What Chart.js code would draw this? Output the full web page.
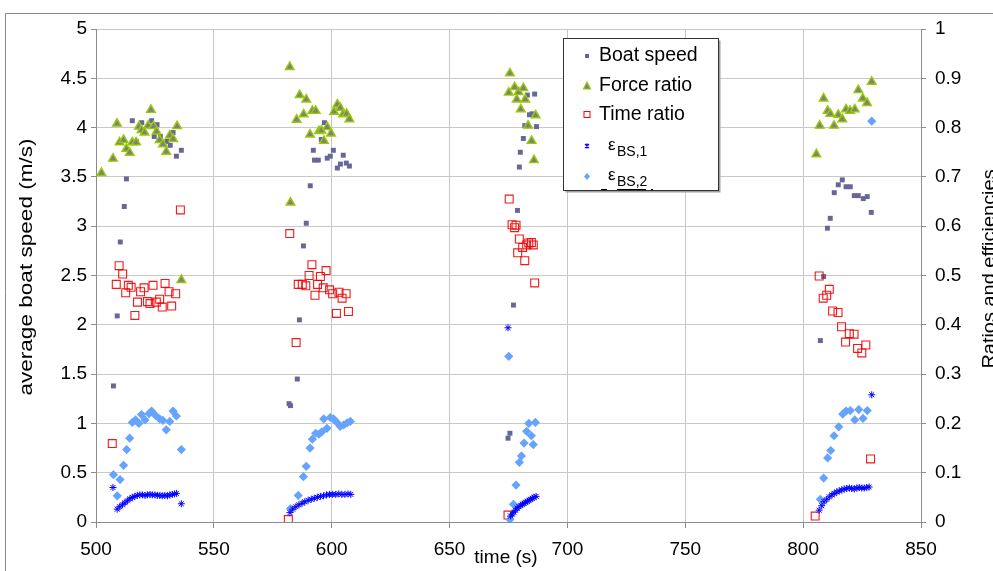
<!DOCTYPE html>
<html>
<head>
<meta charset="utf-8">
<script src="https://cdn.jsdelivr.net/npm/chart.js@4.4.1/dist/chart.umd.min.js"></script>
<style>
  html, body { margin: 0; padding: 0; background: #fff; }
  canvas { display: block; }
</style>
</head>
<body>
<canvas id="c" width="993" height="571"></canvas>
<script>
// [time (s), value] pairs
const boatSpeed = [
  [507.4, 1.38], [509.0, 2.09], [510.3, 2.84], [512.0, 3.20], [512.9, 3.48], [515.4, 4.07],
  [517.1, 3.86], [519.4, 4.05], [523.6, 4.07], [524.7, 3.91], [525.9, 4.03], [527.3, 3.91],
  [530.1, 3.86], [531.5, 3.82], [532.7, 3.95], [534.1, 3.71], [536.2, 3.77],
  [581.9, 1.20], [582.5, 1.18], [585.4, 1.45], [586.3, 2.05], [588.0, 2.80], [589.2, 3.03],
  [590.9, 3.41], [592.2, 3.77], [592.7, 3.67], [594.3, 3.67], [595.6, 3.88], [596.9, 4.05],
  [598.1, 3.69], [599.4, 3.71], [600.7, 3.77], [602.4, 3.59], [603.7, 3.63], [604.9, 3.72],
  [606.2, 3.64], [607.5, 3.61],
  [674.8, 0.85], [675.6, 0.90], [677.1, 2.20], [678.8, 3.16], [679.6, 3.60], [680.0, 3.75],
  [681.3, 3.89], [681.9, 4.02], [683.0, 4.33], [683.9, 4.13], [685.0, 4.14], [686.1, 4.34],
  [686.9, 4.01],
  [807.3, 1.84], [808.7, 2.49], [810.3, 2.98], [811.5, 3.08], [813.2, 3.34], [814.9, 3.42],
  [816.6, 3.47], [818.2, 3.40], [820.0, 3.40], [821.7, 3.31], [823.4, 3.31], [825.5, 3.28],
  [827.2, 3.30], [828.9, 3.14]
];

const forceRatio = [
  [502.3, 0.708], [507.2, 0.737], [508.9, 0.808], [510.0, 0.770], [511.7, 0.775], [512.9, 0.757],
  [514.3, 0.749], [515.4, 0.770], [517.0, 0.770], [518.2, 0.802], [519.3, 0.795], [520.6, 0.790],
  [522.1, 0.804], [523.3, 0.836], [524.4, 0.803], [525.7, 0.792], [527.0, 0.775], [528.4, 0.766],
  [529.8, 0.751], [531.3, 0.784], [532.7, 0.777], [534.4, 0.803], [536.2, 0.491],
  [582.2, 0.923], [582.5, 0.648], [585.1, 0.816], [586.4, 0.866], [588.1, 0.827], [589.2, 0.857],
  [590.8, 0.786], [591.8, 0.834], [593.2, 0.834], [594.6, 0.793], [595.6, 0.794], [596.7, 0.773],
  [598.1, 0.801], [599.7, 0.788], [601.0, 0.832], [602.4, 0.847], [603.6, 0.840], [604.8, 0.827],
  [606.3, 0.828], [607.5, 0.817],
  [675.1, 0.871], [675.6, 0.910], [677.6, 0.882], [678.5, 0.857], [679.3, 0.872], [680.2, 0.837],
  [681.3, 0.880], [682.1, 0.857], [683.3, 0.804], [684.8, 0.773], [685.8, 0.734], [686.5, 0.825],
  [805.6, 0.746], [807.0, 0.804], [808.7, 0.859], [810.4, 0.834], [811.5, 0.828], [813.1, 0.804],
  [814.9, 0.826], [816.6, 0.817], [818.2, 0.837], [819.9, 0.834], [821.9, 0.837], [823.4, 0.876],
  [825.3, 0.859], [827.1, 0.850], [829.1, 0.893]
];

const timeRatio = [
  [506.9, 0.159], [508.6, 0.482], [509.8, 0.520], [511.3, 0.503], [512.6, 0.465], [513.7, 0.480],
  [514.9, 0.476], [516.5, 0.419], [517.6, 0.446], [518.9, 0.467], [520.4, 0.475], [521.8, 0.447],
  [522.9, 0.443], [524.2, 0.480], [525.6, 0.446], [527.0, 0.452], [528.1, 0.436], [529.3, 0.484],
  [531.0, 0.467], [532.1, 0.438], [533.8, 0.463], [535.8, 0.633],
  [581.6, 0.005], [582.2, 0.585], [584.9, 0.364], [585.8, 0.482], [587.5, 0.482], [589.0, 0.479],
  [590.4, 0.500], [591.6, 0.522], [592.9, 0.460], [594.0, 0.482], [595.2, 0.498], [596.4, 0.475],
  [597.6, 0.510], [599.1, 0.471], [600.4, 0.463], [602.0, 0.423], [603.1, 0.466], [604.4, 0.454],
  [606.1, 0.463], [607.1, 0.427],
  [674.8, 0.014], [675.3, 0.655], [676.5, 0.603], [677.6, 0.597], [678.2, 0.602], [678.9, 0.546],
  [679.6, 0.574], [681.0, 0.557], [681.9, 0.530], [682.7, 0.562], [683.6, 0.566], [684.7, 0.567],
  [685.5, 0.562], [686.1, 0.485],
  [805.1, 0.012], [806.8, 0.499], [808.5, 0.454], [810.0, 0.460], [811.1, 0.472], [812.5, 0.428],
  [814.8, 0.425], [816.3, 0.396], [818.0, 0.365], [819.6, 0.382], [821.6, 0.381], [823.1, 0.352],
  [824.9, 0.343], [826.6, 0.359], [828.6, 0.128]
];

const epsBS1 = [
  [507.2, 0.070], [509.0, 0.026], [510.1, 0.031], [511.2, 0.035], [512.3, 0.039], [513.3, 0.043],
  [514.4, 0.047], [515.4, 0.050], [516.5, 0.052], [517.5, 0.054], [518.6, 0.055], [519.7, 0.055],
  [520.8, 0.054], [521.8, 0.055], [522.9, 0.056], [523.9, 0.055], [525.0, 0.055], [526.0, 0.054],
  [527.1, 0.054], [528.1, 0.053], [529.2, 0.054], [530.3, 0.053], [531.3, 0.055], [532.4, 0.056],
  [533.3, 0.057], [534.1, 0.058], [536.2, 0.037],
  [582.3, 0.019], [583.5, 0.026], [584.8, 0.031], [586.1, 0.035], [587.4, 0.038], [588.6, 0.041],
  [590.0, 0.044], [591.3, 0.046], [592.6, 0.048], [593.9, 0.050], [595.2, 0.052], [596.5, 0.053],
  [597.8, 0.055], [599.1, 0.056], [600.4, 0.056], [601.7, 0.056], [603.0, 0.057], [604.3, 0.056],
  [605.6, 0.056], [606.9, 0.057], [608.1, 0.056],
  [674.8, 0.394], [675.9, 0.012], [676.6, 0.016], [677.3, 0.020], [678.0, 0.024], [678.7, 0.028],
  [679.5, 0.031], [680.2, 0.034], [680.9, 0.036], [681.6, 0.038], [682.3, 0.040], [683.0, 0.042],
  [683.7, 0.044], [684.4, 0.046], [685.1, 0.048], [685.8, 0.050], [686.7, 0.052],
  [806.8, 0.024], [807.9, 0.033], [808.9, 0.041], [810.0, 0.046], [811.1, 0.051], [812.2, 0.055],
  [813.2, 0.058], [814.3, 0.061], [815.3, 0.063], [816.4, 0.065], [817.4, 0.067], [818.5, 0.068],
  [819.6, 0.069], [820.6, 0.068], [821.7, 0.067], [822.8, 0.069], [823.8, 0.070], [824.9, 0.069],
  [825.9, 0.069], [827.0, 0.070], [828.0, 0.071], [829.1, 0.258]
];

const epsBS2 = [
  [507.4, 0.096], [509.0, 0.053], [510.2, 0.086], [511.7, 0.115], [513.0, 0.147], [514.3, 0.170],
  [515.4, 0.202], [516.8, 0.207], [518.2, 0.200], [519.3, 0.218], [520.8, 0.207], [522.5, 0.220],
  [523.6, 0.225], [525.3, 0.216], [527.0, 0.209], [528.4, 0.206], [529.8, 0.187], [531.3, 0.204],
  [532.7, 0.225], [534.1, 0.215], [536.2, 0.147],
  [582.5, 0.027], [585.8, 0.054], [588.0, 0.092], [589.2, 0.113], [590.8, 0.150], [591.8, 0.168],
  [593.2, 0.180], [594.6, 0.178], [595.8, 0.183], [596.6, 0.209], [598.0, 0.190], [599.4, 0.212],
  [600.8, 0.209], [602.2, 0.202], [603.6, 0.194], [605.1, 0.197], [606.5, 0.201], [607.9, 0.204],
  [675.1, 0.336], [675.6, 0.005], [677.1, 0.036], [678.2, 0.075], [679.6, 0.121], [680.5, 0.134],
  [681.6, 0.160], [682.7, 0.184], [683.6, 0.200], [684.7, 0.175], [685.5, 0.157], [686.4, 0.202],
  [807.3, 0.046], [808.7, 0.089], [810.4, 0.130], [811.7, 0.145], [813.1, 0.175], [815.1, 0.193],
  [816.8, 0.219], [818.2, 0.225], [820.0, 0.226], [821.9, 0.207], [823.6, 0.228], [825.4, 0.210],
  [827.2, 0.226], [829.1, 0.813]
];

const xTicks = { min: 500, max: 850, step: 50 };
const leftTicks = { min: 0, max: 5, step: 0.5 };
const rightTicks = { min: 0, max: 1, step: 0.1 };

const FONT = 'Liberation Sans, Arial, sans-serif';
const AXIS = '#8c8c8c';
const GRID = '#c8c8c8';
const toXY = (arr) => arr.map((p) => ({ x: p[0], y: p[1] }));
const fmt = (v) => String(Number(v.toFixed(2)));

// frame, axis titles and the legend box with subscripts
const decorations = {
  id: 'decorations',
  beforeDraw(chart) {
    const { ctx } = chart;
    ctx.save();
    ctx.fillStyle = '#fff';
    ctx.fillRect(0, 0, chart.width, chart.height);
    ctx.strokeStyle = '#8a8a8a';
    ctx.lineWidth = 1;
    ctx.beginPath();
    ctx.moveTo(5.5, 600);
    ctx.lineTo(5.5, 13.5);
    ctx.lineTo(1000, 13.5);
    ctx.stroke();
    ctx.restore();
  },
  afterDraw(chart) {
    const { ctx } = chart;
    ctx.save();
    ctx.fillStyle = '#000';
    ctx.font = `19px ${FONT}`;
    ctx.textAlign = 'center';
    ctx.textBaseline = 'middle';
    ctx.fillText('time (s)', 506, 558);

    ctx.save();
    ctx.translate(27, 267);
    ctx.rotate(-Math.PI / 2);
    ctx.scale(1.22, 1);
    ctx.font = `18.5px ${FONT}`;
    ctx.fillText('average boat speed (m/s)', 0, 0);
    ctx.restore();

    ctx.save();
    ctx.translate(995, 269);
    ctx.rotate(-Math.PI / 2);
    ctx.scale(1.05, 1);
    ctx.textBaseline = 'alphabetic';
    ctx.fillText('Ratios and efficiencies', 0, 0);
    ctx.restore();

    // legend
    const bx = 563.5, by = 38.5, bw = 155, bh = 152;
    ctx.fillStyle = '#a0a0a0';
    ctx.fillRect(bx + 2, by + 2, bw, bh);
    ctx.fillStyle = '#fff';
    ctx.fillRect(bx, by, bw, bh);
    ctx.strokeStyle = '#333';
    ctx.lineWidth = 1;
    ctx.strokeRect(bx, by, bw, bh);

    const mx = 587;
    // boat speed
    ctx.fillStyle = '#666699';
    ctx.fillRect(mx - 2, 56 - 2, 4, 4);
    // force ratio
    ctx.beginPath();
    ctx.moveTo(mx, 82); ctx.lineTo(mx + 3.5, 89); ctx.lineTo(mx - 3.5, 89); ctx.closePath();
    ctx.fillStyle = '#808080'; ctx.fill();
    ctx.strokeStyle = '#99cc00'; ctx.lineWidth = 1.2; ctx.stroke();
    // time ratio
    ctx.strokeStyle = '#ff0000'; ctx.lineWidth = 1;
    ctx.strokeRect(mx - 3, 111.5, 6, 6);
    // eps 1
    ctx.strokeStyle = '#0000ff'; ctx.lineWidth = 1.2;
    ctx.beginPath();
    ctx.moveTo(mx - 2, 144); ctx.lineTo(mx + 2, 148);
    ctx.moveTo(mx + 2, 144); ctx.lineTo(mx - 2, 148);
    ctx.moveTo(mx, 143.5); ctx.lineTo(mx, 148.5);
    ctx.stroke();
    // eps 2
    ctx.fillStyle = '#66a3ff';
    ctx.beginPath();
    ctx.moveTo(mx, 173); ctx.lineTo(mx + 3, 176.5); ctx.lineTo(mx, 180); ctx.lineTo(mx - 3, 176.5);
    ctx.closePath(); ctx.fill();

    ctx.fillStyle = '#000';
    ctx.textAlign = 'left';
    ctx.textBaseline = 'middle';
    ctx.font = `19.5px ${FONT}`;
    ctx.fillText('Boat speed', 599, 56);
    ctx.fillText('Force ratio', 599, 86);
    ctx.fillText('Time ratio', 599, 115);

    ctx.font = `17px ${FONT}`;
    ctx.fillText('\u03B5', 608, 145);
    ctx.fillText('\u03B5', 608, 175);
    ctx.font = `14px ${FONT}`;
    ctx.fillText('BS,1', 617, 152);
    ctx.fillText('BS,2', 617, 182);
    // stray underline marks on the second entry
    ctx.strokeStyle = '#000';
    ctx.lineWidth = 1;
    ctx.beginPath();
    ctx.moveTo(601, 189.5); ctx.lineTo(607, 189.5);
    ctx.moveTo(617, 189.5); ctx.lineTo(646, 189.5);
    ctx.moveTo(651, 189.5); ctx.lineTo(653, 189.5);
    ctx.stroke();
    ctx.restore();
  }
};

new Chart(document.getElementById('c'), {
  type: 'scatter',
  data: {
    datasets: [
      {
        label: 'εBS,1', data: toXY(epsBS1), yAxisID: 'y2', order: 0,
        pointStyle: 'star', pointRadius: 3.5, borderColor: '#0000ff', borderWidth: 1,
        backgroundColor: '#0000ff'
      },
      {
        label: 'εBS,2', data: toXY(epsBS2), yAxisID: 'y2', order: 1,
        pointStyle: 'rectRot', pointRadius: 4.6, borderWidth: 0,
        backgroundColor: '#66a3ff', borderColor: '#66a3ff'
      },
      {
        label: 'Time ratio', data: toXY(timeRatio), yAxisID: 'y2', order: 2,
        pointStyle: 'rect', pointRadius: 5.6, borderWidth: 1.1,
        borderColor: 'rgba(240,0,0,0.9)', backgroundColor: 'rgba(255,255,255,0)'
      },
      {
        label: 'Force ratio', data: toXY(forceRatio), yAxisID: 'y2', order: 3,
        pointStyle: 'triangle', pointRadius: 5, borderWidth: 1.4,
        borderColor: '#99cc00', backgroundColor: '#808080'
      },
      {
        label: 'Boat speed', data: toXY(boatSpeed), yAxisID: 'y', order: 4,
        pointStyle: 'rect', pointRadius: 3.5, borderWidth: 0,
        borderColor: '#666699', backgroundColor: '#666699'
      }
    ]
  },
  options: {
    responsive: false,
    animation: false,
    events: [],
    layout: { padding: { top: 29, left: 0, right: 0, bottom: 0 } },
    plugins: { legend: { display: false }, tooltip: { enabled: false } },
    scales: {
      x: {
        type: 'linear', min: xTicks.min, max: xTicks.max,
        ticks: { stepSize: xTicks.step, color: '#000', font: { family: FONT, size: 19 }, padding: 10, maxRotation: 0 },
        grid: { color: GRID, tickColor: AXIS, tickLength: 6 },
        border: { color: AXIS },
        afterFit(s) { s.height = 49; }
      },
      y: {
        position: 'left', min: leftTicks.min, max: leftTicks.max,
        ticks: { stepSize: leftTicks.step, color: '#000', font: { family: FONT, size: 19 }, padding: 4, callback: fmt },
        grid: { color: GRID, tickColor: AXIS, tickLength: 5 },
        border: { color: AXIS },
        afterFit(s) { s.width = 96; }
      },
      y2: {
        position: 'right', min: rightTicks.min, max: rightTicks.max,
        ticks: { stepSize: rightTicks.step, color: '#000', font: { family: FONT, size: 19 }, padding: 9, callback: fmt },
        grid: { drawOnChartArea: false, tickColor: AXIS, tickLength: 5 },
        border: { color: AXIS },
        afterFit(s) { s.width = 72; }
      }
    }
  },
  plugins: [decorations]
});
</script>
</body>
</html>
